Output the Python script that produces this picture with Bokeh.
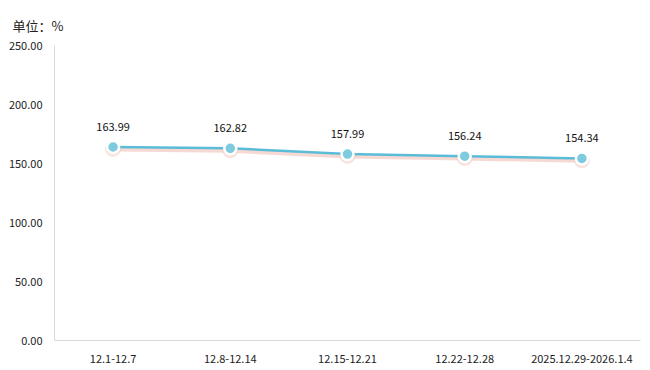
from bokeh.plotting import figure
from bokeh.models import FactorRange, Range1d, NumeralTickFormatter, ColumnDataSource, LabelSet, FixedTicker
from bokeh.core.properties import value
from bokeh.embed import file_html
from bokeh.resources import INLINE

categories = ["12.1-12.7", "12.8-12.14", "12.15-12.21", "12.22-12.28", "2025.12.29-2026.1.4"]
values = [163.99, 162.82, 157.99, 156.24, 154.34]
y_ticks = [0, 50, 100, 150, 200, 250]
unit_label = "单位：%"

shadow_offset = 1.6
src = ColumnDataSource(dict(
    x=categories,
    y=values,
    ys=[v - shadow_offset for v in values],
    label=["%.2f" % v for v in values],
))

p = figure(width=650, height=370, x_range=FactorRange(*categories, range_padding=0),
           y_range=Range1d(0, 250), output_backend="svg", toolbar_location=None,
           title=unit_label,
           min_border_left=54, min_border_right=10, min_border_top=45, min_border_bottom=30)
p.title.align = "left"
p.title.offset = -42
p.title.text_font = "Noto Sans CJK SC"
p.title.text_font_size = "13px"
p.title.text_font_style = "normal"
p.title.text_color = "#222222"
p.title.standoff = 22

p.outline_line_color = None
p.xgrid.grid_line_color = None
p.ygrid.grid_line_color = None

p.yaxis.ticker = FixedTicker(ticks=y_ticks)
p.yaxis.formatter = NumeralTickFormatter(format="0.00")
for ax in (p.xaxis[0], p.yaxis[0]):
    ax.axis_line_color = "#d9d9d9"
    ax.major_tick_line_color = None
    ax.minor_tick_line_color = None
    ax.major_label_text_font = "Noto Sans CJK SC"
    ax.major_label_text_font_size = "11px"
    ax.major_label_text_color = "#222222"
p.yaxis.major_label_standoff = 6
p.xaxis.major_label_standoff = 8

# shadow
p.line("x", "ys", source=src, line_color="#f2c9c0", line_width=5, line_alpha=0.7)
p.scatter("x", "ys", source=src, size=16, fill_color="#f2c9c0", fill_alpha=0.5, line_color=None)
# main line
p.line("x", "y", source=src, line_color="#5bbcd8", line_width=2.5)
p.scatter("x", "y", source=src, size=12, fill_color="#7ecbe0", line_color="white", line_width=2.5)

labels = LabelSet(x="x", y="y", text="label", source=src, y_offset=16, text_align="center",
                  text_font=value("Noto Sans CJK SC"), text_font_size=value("11px"), text_color="#111111")
p.add_layout(labels)

open("out.html", "w").write(file_html(p, INLINE))
